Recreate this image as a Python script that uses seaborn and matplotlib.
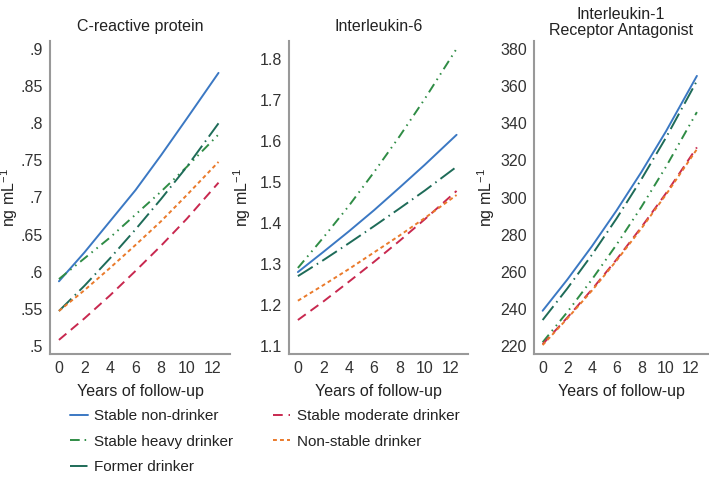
import numpy as np
import pandas as pd
import seaborn as sns
import matplotlib.pyplot as plt
from matplotlib.ticker import FuncFormatter

years = [0, 2, 4, 6, 8, 10, 12.5]
groups = ["Stable non-drinker", "Stable heavy drinker", "Former drinker",
          "Stable moderate drinker", "Non-stable drinker"]

# C-reactive protein
crp_non = [.587, .626, .668, .710, .757, .806, .868]
crp_heavy = [.590, .618, .646, .677, .708, .741, .785]
crp_former = [.547, .581, .618, .657, .698, .741, .800]
crp_moderate = [.508, .537, .568, .601, .635, .671, .720]
crp_nonstable = [.547, .575, .605, .636, .668, .703, .748]

# Interleukin-6
il6_non = [1.280, 1.329, 1.379, 1.431, 1.486, 1.542, 1.615]
il6_heavy = [1.290, 1.364, 1.441, 1.524, 1.611, 1.703, 1.825]
il6_former = [1.270, 1.309, 1.350, 1.392, 1.435, 1.479, 1.537]
il6_moderate = [1.163, 1.208, 1.256, 1.305, 1.356, 1.409, 1.478]
il6_nonstable = [1.210, 1.248, 1.287, 1.328, 1.369, 1.412, 1.468]

# Interleukin-1 receptor antagonist
il1_non = [239.0, 255.8, 273.8, 293.1, 313.7, 335.7, 365.5]
il1_heavy = [222.0, 238.3, 255.9, 274.7, 294.9, 316.6, 346.0]
il1_former = [234.0, 251.0, 269.2, 288.8, 309.8, 332.3, 362.8]
il1_moderate = [221.0, 235.3, 250.5, 266.7, 284.0, 302.3, 327.0]
il1_nonstable = [220.5, 234.8, 249.9, 266.1, 283.3, 301.6, 326.0]

panels = [
    ("C-reactive protein", [crp_non, crp_heavy, crp_former, crp_moderate, crp_nonstable],
     (0.489, 0.911), np.arange(0.5, 0.91, 0.05), -0.165),
    ("Interleukin-6", [il6_non, il6_heavy, il6_former, il6_moderate, il6_nonstable],
     (1.08, 1.844), np.arange(1.1, 1.81, 0.1), -0.20),
    ("Interleukin-1\nReceptor Antagonist", [il1_non, il1_heavy, il1_former, il1_moderate, il1_nonstable],
     (215.7, 384.3), np.arange(220, 381, 20), -0.21),
]

palette = {
    "Stable non-drinker": "#3b78c3",
    "Stable heavy drinker": "#2f8c45",
    "Former drinker": "#1e6b58",
    "Stable moderate drinker": "#c8284f",
    "Non-stable drinker": "#ea7a2b",
}
dashes = {
    "Stable non-drinker": "",
    "Stable heavy drinker": (5, 2.5, 0.8, 2.5, 0.8, 2.5),
    "Former drinker": (9, 2.5, 0.8, 2.5),
    "Stable moderate drinker": (5, 3),
    "Non-stable drinker": (2, 1.6),
}

sns.set_style("white")
plt.rcParams["font.family"] = ["Liberation Sans", "DejaVu Sans"]
plt.rcParams["mathtext.default"] = "regular"

fig = plt.figure(figsize=(7.09, 4.79), dpi=100)
boxes = [(50, 180), (289, 179), (534, 174)]

axes = []
for (title, series, ylim, yticks, labx), (left, width) in zip(panels, boxes):
    ax = fig.add_axes([left / 709, 1 - 354 / 479, width / 709, 313 / 479])
    df = pd.DataFrame({
        "year": years * len(groups),
        "value": [v for s in series for v in s],
        "group": [g for g in groups for _ in years],
    })
    sns.lineplot(data=df, x="year", y="value", hue="group", style="group",
                 palette=palette, dashes=dashes, hue_order=groups, style_order=groups,
                 linewidth=1.4, ax=ax)
    ax.set_xlim(-0.7, 13.4)
    ax.set_ylim(*ylim)
    ax.set_xticks(range(0, 13, 2))
    ax.set_yticks(yticks)
    if title == "C-reactive protein":
        ax.yaxis.set_major_formatter(FuncFormatter(lambda v, p: f"{v:.2f}".rstrip("0").lstrip("0")))
    elif title == "Interleukin-6":
        ax.yaxis.set_major_formatter(FuncFormatter(lambda v, p: f"{v:.1f}"))
    two_lines = "\n" in title
    ax.set_title(title, fontsize=11.5, color="#222222",
                 pad=4 if two_lines else 7, linespacing=1.12)
    ax.set_xlabel("Years of follow-up", fontsize=11.5, color="#222222", labelpad=6)
    ax.set_ylabel("ng mL$^{-1}$", fontsize=11.5, color="#222222")
    ax.yaxis.set_label_coords(labx, 0.5)
    ax.tick_params(axis="both", length=0, labelsize=11.5, labelcolor="#333333", pad=5)
    sns.despine(ax=ax)
    for side in ["left", "bottom"]:
        ax.spines[side].set_color("#999999")
        ax.spines[side].set_linewidth(1.5)
    ax.get_legend().remove()
    axes.append(ax)

handles, labels = axes[0].get_legend_handles_labels()
fig.legend(handles, labels, loc="upper left", bbox_to_anchor=(70 / 709, 1 - 409 / 479),
           ncol=2, frameon=False, fontsize=11, handlelength=1.15, handletextpad=0.45,
           columnspacing=2.55, labelspacing=0.76, labelcolor="#222222",
           borderpad=0, borderaxespad=0)

fig.savefig("out.png", dpi=100)
